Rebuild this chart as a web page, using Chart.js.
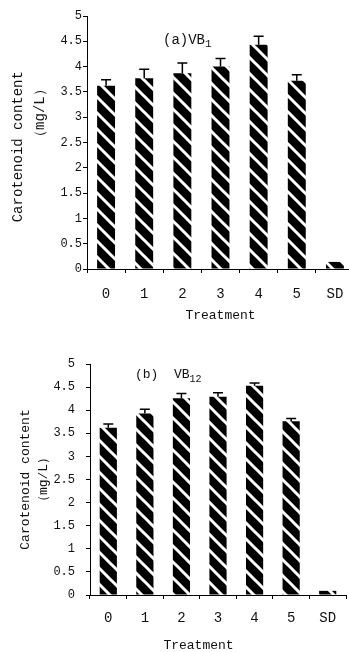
<!DOCTYPE html>
<html>
<head>
<meta charset="utf-8">
<script src="https://cdn.jsdelivr.net/npm/chart.js@4"></script>
<style>
  body { margin: 0; background: #fff; width: 349px; height: 652px; overflow: hidden; }
  #wrapA { position: absolute; left: 0; top: 0; width: 360px; height: 325px; }
  #wrapB { position: absolute; left: 0; top: 325px; width: 349px; height: 327px; }
</style>
</head>
<body>
<div id="wrapA"><canvas id="chartA"></canvas></div>
<div id="wrapB"><canvas id="chartB"></canvas></div>
<script>
// data
const treatments = ["0", "1", "2", "3", "4", "5", "SD"];
const vb1Mean = [3.62, 3.77, 3.87, 4.00, 4.43, 3.72, 0.14];
const vb1Err  = [0.12, 0.18, 0.20, 0.16, 0.17, 0.12, 0];
const vb12Mean = [3.62, 3.93, 4.26, 4.29, 4.53, 3.76, 0.09];
const vb12Err  = [0.08, 0.09, 0.10, 0.09, 0.06, 0.06, 0];
const yMin = 0, yMax = 5, yStep = 0.5;

const FONT = "'Liberation Mono', monospace";

// black bar with white "\" stripes
function stripes() {
  const c = document.createElement('canvas');
  c.width = 16; c.height = 16;
  const g = c.getContext('2d');
  g.fillStyle = '#000';
  g.fillRect(0, 0, 16, 16);
  g.strokeStyle = '#fff';
  g.lineWidth = 3;
  for (const k of [-16, 0, 16]) {
    g.beginPath();
    g.moveTo(-2, -2 + k);
    g.lineTo(18, 18 + k);
    g.stroke();
  }
  return g.createPattern(c, 'repeat');
}

// upper error bars only
const errorBars = {
  id: 'errorBars',
  afterDatasetsDraw(chart, args, opts) {
    const ctx = chart.ctx;
    const y = chart.scales.y;
    const meta = chart.getDatasetMeta(0);
    const vals = chart.data.datasets[0].data;
    ctx.save();
    ctx.strokeStyle = '#000';
    ctx.lineWidth = 1.5;
    meta.data.forEach((bar, i) => {
      const e = opts.err[i];
      if (!e) return;
      const top = y.getPixelForValue(vals[i] + e);
      ctx.beginPath();
      ctx.moveTo(bar.x, bar.y);
      ctx.lineTo(bar.x, top);
      ctx.moveTo(bar.x - 5, top);
      ctx.lineTo(bar.x + 5, top);
      ctx.stroke();
    });
    ctx.restore();
  }
};

// panel label with subscript
const panelTitle = {
  id: 'panelTitle',
  afterDraw(chart, args, opts) {
    const ctx = chart.ctx;
    const a = chart.chartArea;
    ctx.save();
    ctx.fillStyle = '#111';
    ctx.textBaseline = 'middle';
    ctx.font = opts.size + 'px ' + FONT;
    const x = a.left + opts.dx, y = a.top + opts.dy;
    ctx.fillText(opts.main, x, y);
    const w = ctx.measureText(opts.main).width;
    ctx.font = (opts.size - 3) + 'px ' + FONT;
    ctx.fillText(opts.sub, x + w, y + 4);
    ctx.restore();
  }
};

function makeChart(id, means, errs, o) {
  return new Chart(document.getElementById(id), {
    type: 'bar',
    data: {
      labels: treatments,
      datasets: [{
        data: means,
        backgroundColor: stripes(),
        borderWidth: 0,
        barPercentage: 0.47,
        categoryPercentage: 1
      }]
    },
    plugins: [errorBars, panelTitle],
    options: {
      responsive: true,
      maintainAspectRatio: false,
      animation: false,
      layout: { padding: { top: o.padTop, right: o.padRight, left: 0, bottom: 0 } },
      plugins: {
        legend: { display: false },
        tooltip: { enabled: false },
        errorBars: { err: errs },
        panelTitle: o.title
      },
      scales: {
        x: {
          afterFit(s) { s.height = o.xHeight; },
          grid: { offset: true, drawOnChartArea: false, color: '#000', tickLength: 4 },
          border: { color: '#000', width: 1 },
          ticks: { color: '#111', font: { family: FONT, size: 14 }, padding: o.xPad, maxRotation: 0, autoSkip: false },
          title: {
            display: true, text: o.xTitle, color: '#111',
            font: { family: FONT, size: 13, lineHeight: 1 },
            padding: { top: 0, bottom: o.xTitlePad }
          }
        },
        y: {
          min: yMin, max: yMax,
          afterFit(s) { s.width = o.yWidth; },
          grid: { drawOnChartArea: false, color: '#000', tickLength: 4 },
          border: { color: '#000', width: 1 },
          ticks: { stepSize: yStep, color: '#111', font: { family: FONT, size: 12 }, padding: o.yPad, callback: v => String(v) },
          title: {
            display: true, text: o.yTitle, color: '#111',
            font: { family: FONT, size: o.yTitleSize, lineHeight: o.yTitleLH },
            padding: { top: o.yTitlePad, bottom: 0 }
          }
        }
      }
    }
  });
}

makeChart('chartA', vb1Mean, vb1Err, {
  padTop: 16, padRight: 6, xHeight: 56, yWidth: 87, xPad: 13, xTitlePad: 3, yPad: 1,
  xTitle: 'Treatment',
  yTitle: ['Carotenoid content ', '       （mg/L）'], yTitleSize: 14, yTitleLH: 1.57, yTitlePad: 7,
  title: { main: '(a)VB', sub: '1', size: 14, dx: 76, dy: 24 }
});

makeChart('chartB', vb12Mean, vb12Err, {
  padTop: 39, padRight: 3, xHeight: 57, yWidth: 90, xPad: 11, xTitlePad: 0, yPad: 11,
  xTitle: 'Treatment     ',
  yTitle: ['Carotenoid content', '（mg/L）'], yTitleSize: 13, yTitleLH: 1.385, yTitlePad: 17,
  title: { main: '(b)  VB', sub: '12', size: 13, dx: 45, dy: 11 }
});
</script>
</body>
</html>
